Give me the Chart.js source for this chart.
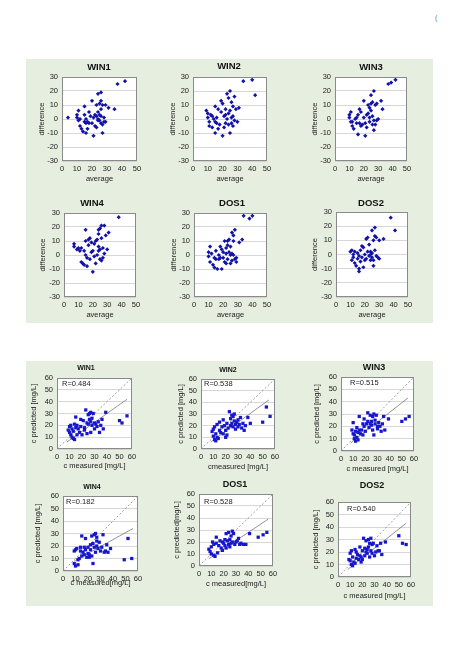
<!DOCTYPE html>
<html>
<head>
<meta charset="utf-8">
<script src="https://cdn.jsdelivr.net/npm/chart.js@4.4.1/dist/chart.umd.min.js"></script>
<style>
  body { margin: 0; background: #fff; width: 459px; height: 650px; position: relative; overflow: hidden; }
  .panel { position: absolute; background: #e6eedf; }
  .cw { position: absolute; }
  #mark { position: absolute; left: 435px; top: 14px; font: 7px 'Liberation Sans', Arial, sans-serif; color: #777; }
</style>
</head>
<body>
<div class="panel" style="left:26px;top:59px;width:407px;height:264px"></div>
<div class="panel" style="left:26px;top:361px;width:407px;height:245px"></div>
<div id="mark">(</div>
<script>
// ---- data ----
const names = ['WIN1', 'WIN2', 'WIN3', 'WIN4', 'DOS1', 'DOS2'];

// difference plots: [average, difference]
const win1Diff = [[4,1],[10,3],[10,1],[11,6],[11,-1],[12,-5],[12,0],[13,-7],[14,-9],[15,9],[15,3],[15,-2],[16,0],[16,-3],[16,-10],[17,-2],[17,-7],[18,5],[18,-3],[19,2],[20,13],[20,-3],[21,-12],[21,1],[22,3],[22,-5],[23,10],[23,2],[23,-6],[24,18],[24,5],[24,0],[25,11],[25,3],[25,-1],[26,19],[26,13],[26,7],[26,-3],[27,10],[27,-4],[27,-10],[28,1],[28,-2],[29,10],[31,8],[35,7],[37,25],[42,27],[26,2],[24,-1],[29,-2]];
const win2Diff = [[9,6],[10,4],[10,1],[11,-2],[11,-5],[12,3],[13,-6],[13,2],[14,0],[15,-10],[15,9],[15,-2],[16,-3],[16,1],[17,7],[17,-7],[18,-4],[19,13],[19,5],[20,-12],[20,11],[21,2],[21,-6],[22,3],[22,7],[23,18],[23,0],[24,15],[24,4],[24,-4],[25,20],[25,6],[25,-10],[26,12],[26,1],[26,-3],[27,9],[27,-5],[28,16],[28,-1],[29,7],[30,-2],[31,8],[34,27],[40,28],[42,17],[22,-3],[27,2]];
const win3Diff = [[10,3],[10,1],[11,-2],[11,5],[12,-5],[12,-2],[13,-7],[14,0],[15,1],[15,-3],[16,-11],[16,3],[17,7],[17,-3],[18,-5],[18,5],[19,-4],[20,13],[20,1],[21,-12],[21,-3],[22,3],[22,-6],[23,10],[23,4],[24,1],[24,-2],[25,17],[25,11],[25,6],[26,12],[26,2],[27,20],[27,-1],[27,-8],[28,10],[28,-4],[29,11],[29,-1],[30,0],[32,13],[33,7],[37,25],[39,26],[42,28],[24,8],[26,-4]];
const win4Diff = [[7,8],[7,6],[9,4],[10,5],[11,3],[12,5],[12,-5],[13,-6],[14,3],[14,-7],[15,10],[15,18],[15,0],[16,-2],[16,-8],[17,11],[17,7],[18,12],[18,-3],[19,9],[19,2],[20,3],[20,-12],[21,-1],[22,10],[22,-6],[23,11],[23,0],[24,15],[24,18],[24,6],[24,3],[25,19],[25,-3],[26,21],[26,12],[26,-4],[27,5],[27,-2],[28,21],[28,1],[29,14],[30,4],[31,16],[38,27],[21,8],[25,4]];
const dos1Diff = [[10,2],[10,-1],[11,6],[11,-5],[12,1],[13,-7],[14,-2],[14,-9],[15,3],[15,-3],[16,-10],[17,0],[17,-3],[18,6],[18,-2],[19,4],[19,-10],[20,-2],[20,2],[21,10],[21,-5],[22,5],[22,1],[23,10],[23,7],[23,-3],[24,2],[24,11],[25,6],[25,-6],[26,16],[26,1],[26,-4],[27,14],[27,10],[27,0],[28,18],[28,-3],[29,-2],[29,-5],[31,9],[33,11],[34,28],[38,26],[40,28],[22,-6],[25,0]];
const dos2Diff = [[10,2],[11,3],[11,-4],[12,0],[12,-2],[13,-6],[13,2],[14,-8],[15,1],[15,-3],[16,-10],[16,-12],[16,-1],[17,-5],[17,3],[18,6],[18,-2],[19,5],[19,-9],[20,0],[21,11],[21,-3],[22,12],[22,2],[23,7],[23,-1],[24,2],[24,-4],[25,17],[25,1],[25,-2],[26,10],[26,-8],[26,-4],[27,19],[27,13],[27,3],[28,12],[28,-1],[29,-2],[30,10],[30,-3],[33,11],[38,26],[41,17],[24,0],[20,-4]];

// prediction plots: [c measured, c predicted]
const win1Pred = [[9,16],[10,19],[10,14],[11,12],[11,20],[12,10],[12,17],[13,9],[13,15],[14,8],[14,21],[15,27],[15,18],[16,12],[16,20],[17,17],[18,14],[19,25],[19,19],[20,12],[21,24],[22,18],[23,33],[24,22],[24,13],[25,29],[25,21],[26,30],[26,25],[27,14],[27,31],[28,20],[28,26],[29,30],[30,22],[30,17],[31,21],[32,19],[33,23],[34,14],[35,20],[36,25],[37,17],[39,31],[50,24],[52,22],[56,28],[22,16],[27,23]];
const win2Pred = [[9,15],[10,17],[10,11],[11,8],[11,19],[12,7],[12,13],[13,10],[13,21],[14,9],[15,16],[15,23],[16,14],[17,19],[18,25],[18,13],[19,20],[20,16],[21,22],[21,12],[22,18],[23,32],[24,20],[24,26],[25,29],[25,22],[26,19],[26,28],[27,30],[28,21],[28,17],[29,23],[30,25],[30,19],[31,21],[32,27],[33,18],[34,22],[35,16],[36,20],[38,27],[40,22],[50,23],[53,36],[56,28],[20,10],[27,24]];
const win3Pred = [[9,17],[10,23],[10,14],[11,13],[11,10],[12,16],[12,8],[13,11],[13,19],[14,9],[14,15],[15,28],[15,17],[16,14],[17,17],[18,22],[19,26],[19,20],[20,16],[21,22],[22,31],[22,24],[23,19],[24,29],[24,22],[25,21],[26,28],[26,17],[27,30],[27,13],[28,22],[28,25],[29,29],[30,20],[30,18],[31,23],[32,20],[33,16],[34,22],[35,28],[36,17],[39,26],[50,24],[53,26],[56,28],[18,13],[25,24]];
const win4Pred = [[9,16],[9,6],[10,17],[10,4],[11,18],[12,9],[12,5],[13,10],[14,19],[14,16],[15,28],[15,12],[16,15],[17,19],[17,13],[18,26],[18,17],[19,11],[20,14],[20,19],[21,13],[22,21],[22,17],[23,28],[23,12],[24,6],[24,22],[25,29],[25,19],[26,30],[26,15],[27,24],[27,20],[28,18],[29,23],[30,16],[31,19],[32,29],[33,15],[34,16],[35,21],[36,15],[38,18],[49,9],[52,26],[55,10],[21,11],[27,27]];
const dos1Pred = [[8,14],[9,12],[10,10],[10,16],[11,20],[12,9],[12,18],[13,8],[14,24],[14,19],[15,11],[16,17],[17,21],[18,15],[19,20],[19,13],[20,19],[21,17],[22,27],[22,15],[23,21],[24,28],[24,18],[25,16],[25,22],[26,25],[27,29],[27,20],[28,27],[29,18],[30,20],[31,21],[32,23],[33,18],[34,19],[36,18],[38,18],[41,27],[48,24],[52,26],[55,28],[21,22],[26,19]];
const dos2Pred = [[9,14],[10,19],[10,13],[11,21],[11,10],[12,9],[12,16],[13,12],[14,22],[14,11],[15,20],[15,15],[16,18],[17,14],[18,24],[18,17],[19,16],[20,21],[20,14],[21,31],[22,23],[22,17],[23,29],[24,22],[24,19],[25,30],[25,24],[26,16],[26,27],[27,31],[27,21],[28,19],[28,26],[29,27],[30,17],[31,20],[32,25],[33,21],[34,21],[35,27],[36,18],[39,28],[50,33],[53,27],[56,26],[19,12],[23,20]];

// fitted lines (end points) and correlation
const win1Fit = [[8,6],[56,42]];
const win2Fit = [[8,6],[55,42]];
const win3Fit = [[8,6.5],[55,43]];
const win4Fit = [[9,8],[56,34]];
const dos1Fit = [[8,6],[56,39]];
const dos2Fit = [[8,6],[56,43]];
const identityLine = [[0,0],[60,60]];
const rValues = [0.484, 0.538, 0.515, 0.182, 0.528, 0.540];

const diffTicks = { min: -30, max: 30, step: 10 };
const avgTicks = { min: 0, max: 50, step: 10 };
const concTicks = { min: 0, max: 60, step: 10 };

// ---- drawing ----
const FONT = "'Liberation Sans', Arial, sans-serif";
Chart.defaults.font.family = FONT;
Chart.defaults.color = '#222';
Chart.defaults.animation = false;

const toXY = pts => pts.map(p => ({ x: p[0], y: p[1] }));

// white plot area, grey frame, chart title and R text
const plotFrame = {
  id: 'plotFrame',
  beforeDraw(chart) {
    const { ctx, chartArea: a } = chart;
    ctx.save();
    ctx.fillStyle = '#fff';
    ctx.fillRect(a.left, a.top, a.width, a.height);
    ctx.restore();
  },
  afterDraw(chart, args, o) {
    const { ctx, chartArea: a } = chart;
    ctx.save();
    ctx.strokeStyle = '#8a8a8a';
    ctx.lineWidth = 1;
    ctx.strokeRect(Math.round(a.left) + 0.5, Math.round(a.top) + 0.5, Math.round(a.width) - 1, Math.round(a.height) - 1);
    ctx.fillStyle = '#111';
    ctx.textBaseline = 'middle';
    ctx.textAlign = 'center';
    ctx.font = 'bold ' + o.titleSize + 'px ' + FONT;
    ctx.fillText(o.title, o.titleX, o.titleY - o.top);
    if (o.note) {
      ctx.textAlign = 'left';
      ctx.font = '7.5px ' + FONT;
      ctx.fillStyle = '#222';
      ctx.fillText(o.note, a.left + o.noteDx, a.top + o.noteDy);
    }
    ctx.restore();
  }
};

function addChart(c) {
  const [l, t, r, b] = c.box;
  const lh = 9;
  const yW = Math.round(l - c.yTitleX + lh / 2);
  const top = c.titleY - 8;
  const padTop = t - top;
  const xH = Math.round(c.xTitleY + lh / 2 - b);
  const padR = 10;
  const left = l - yW;
  const div = document.createElement('div');
  div.className = 'cw';
  div.style.left = left + 'px';
  div.style.top = top + 'px';
  div.style.width = (yW + (r - l) + padR) + 'px';
  div.style.height = (padTop + (b - t) + xH) + 'px';
  const cv = document.createElement('canvas');
  div.appendChild(cv);
  document.body.appendChild(div);

  const datasets = [{
    data: toXY(c.points),
    pointStyle: c.marker,
    pointRadius: c.radius,
    backgroundColor: c.color,
    borderColor: c.color,
    borderWidth: 0
  }];
  if (c.fit) {
    datasets.push({ data: toXY(c.fit), showLine: true, borderColor: '#777', borderWidth: 0.8, pointRadius: 0 });
    datasets.push({ data: toXY(identityLine), showLine: true, borderColor: '#888', borderWidth: 0.8, borderDash: [2, 2], pointRadius: 0 });
  }

  new Chart(cv, {
    type: 'scatter',
    data: { datasets },
    options: {
      responsive: true,
      maintainAspectRatio: false,
      layout: { padding: { top: padTop, right: padR, left: 0, bottom: 0 } },
      plugins: {
        legend: { display: false },
        tooltip: { enabled: false },
        plotFrame: { title: c.title, titleSize: c.titleSize, titleX: c.titleX - left, titleY: c.titleY, top: top, note: c.note, noteDx: c.noteDx, noteDy: c.noteDy }
      },
      scales: {
        x: {
          type: 'linear', min: c.xt.min, max: c.xt.max,
          ticks: { stepSize: c.xt.step, padding: 3, font: { size: c.tickSize }, color: '#222', maxRotation: 0, autoSkip: false },
          grid: { display: false, drawTicks: false },
          border: { display: false },
          title: { display: true, text: c.xTitle, font: { size: 7.5, lineHeight: 1.2 }, padding: 0, color: '#222' },
          afterFit: s => { s.height = xH; }
        },
        y: {
          type: 'linear', min: c.yt.min, max: c.yt.max,
          ticks: { stepSize: c.yt.step, padding: 4, font: { size: c.tickSize }, color: '#222', autoSkip: false },
          grid: { color: '#cdcdcd', lineWidth: 0.8, drawTicks: false },
          border: { display: false },
          title: { display: true, text: c.yTitle, font: { size: 7.5, lineHeight: 1.2 }, padding: 0, color: '#222' },
          afterFit: s => { s.width = yW; }
        }
      }
    },
    plugins: [plotFrame]
  });
}

const diffSets = [win1Diff, win2Diff, win3Diff, win4Diff, dos1Diff, dos2Diff];
const diffGeo = [
  { box: [62, 77, 137, 161], titleX: 99, titleY: 67, yTitleX: 42, xTitleY: 178 },
  { box: [193, 77, 267, 161], titleX: 229, titleY: 66, yTitleX: 173, xTitleY: 178 },
  { box: [335, 77, 407, 161], titleX: 371, titleY: 67, yTitleX: 315, xTitleY: 178 },
  { box: [64, 213, 136, 297], titleX: 92, titleY: 203, yTitleX: 43, xTitleY: 314 },
  { box: [194, 213, 267, 297], titleX: 232, titleY: 203, yTitleX: 174, xTitleY: 314 },
  { box: [336, 212, 408, 297], titleX: 371, titleY: 203, yTitleX: 315, xTitleY: 314 }
];
diffGeo.forEach((g, i) => addChart(Object.assign({
  title: names[i], titleSize: 9.5, points: diffSets[i], marker: 'rectRot', radius: 2.1, color: '#1212a8',
  xt: avgTicks, yt: diffTicks, tickSize: 7.5, xTitle: 'average', yTitle: 'difference'
}, g)));

const predSets = [win1Pred, win2Pred, win3Pred, win4Pred, dos1Pred, dos2Pred];
const fitSets = [win1Fit, win2Fit, win3Fit, win4Fit, dos1Fit, dos2Fit];
const predGeo = [
  { box: [57, 378, 132, 449], titleX: 86, titleY: 368, titleSize: 7, yTitleX: 34, xTitleY: 465, noteDx: 5, noteDy: 6, xTitle: 'c measured [mg/L]', yTitle: 'c predicted [mg/L]' },
  { box: [201, 379, 275, 449], titleX: 228, titleY: 370, titleSize: 7, yTitleX: 181, xTitleY: 466, noteDx: 3, noteDy: 5, xTitle: 'cmeasured [mg/L]', yTitle: 'c predicted [mg/L]' },
  { box: [341, 377, 414, 451], titleX: 374, titleY: 368, titleSize: 9, yTitleX: 317, xTitleY: 468, noteDx: 9, noteDy: 6, xTitle: 'c measured [mg/L]', yTitle: 'c predicted [mg/L]' },
  { box: [63, 496, 138, 571], titleX: 92, titleY: 487, titleSize: 7, yTitleX: 38, xTitleY: 582, noteDx: 3, noteDy: 6, xTitle: 'c measured[mg/L]', yTitle: 'c predicted [mg/L]' },
  { box: [199, 494, 273, 566], titleX: 235, titleY: 485, titleSize: 9, yTitleX: 177, xTitleY: 583, noteDx: 5, noteDy: 8, xTitle: 'c measured[mg/L]', yTitle: 'c predicted[mg/L]' },
  { box: [338, 502, 411, 577], titleX: 372, titleY: 486, titleSize: 9, yTitleX: 316, xTitleY: 595, noteDx: 9, noteDy: 7, xTitle: 'c measured [mg/L]', yTitle: 'c predicted [mg/L]' }
];
predGeo.forEach((g, i) => addChart(Object.assign({
  title: names[i], points: predSets[i], fit: fitSets[i], note: 'R=' + rValues[i].toFixed(3),
  marker: 'rect', radius: 2.3, color: '#1616cc', xt: concTicks, yt: concTicks, tickSize: 7.5
}, g)));
</script>
</body>
</html>
